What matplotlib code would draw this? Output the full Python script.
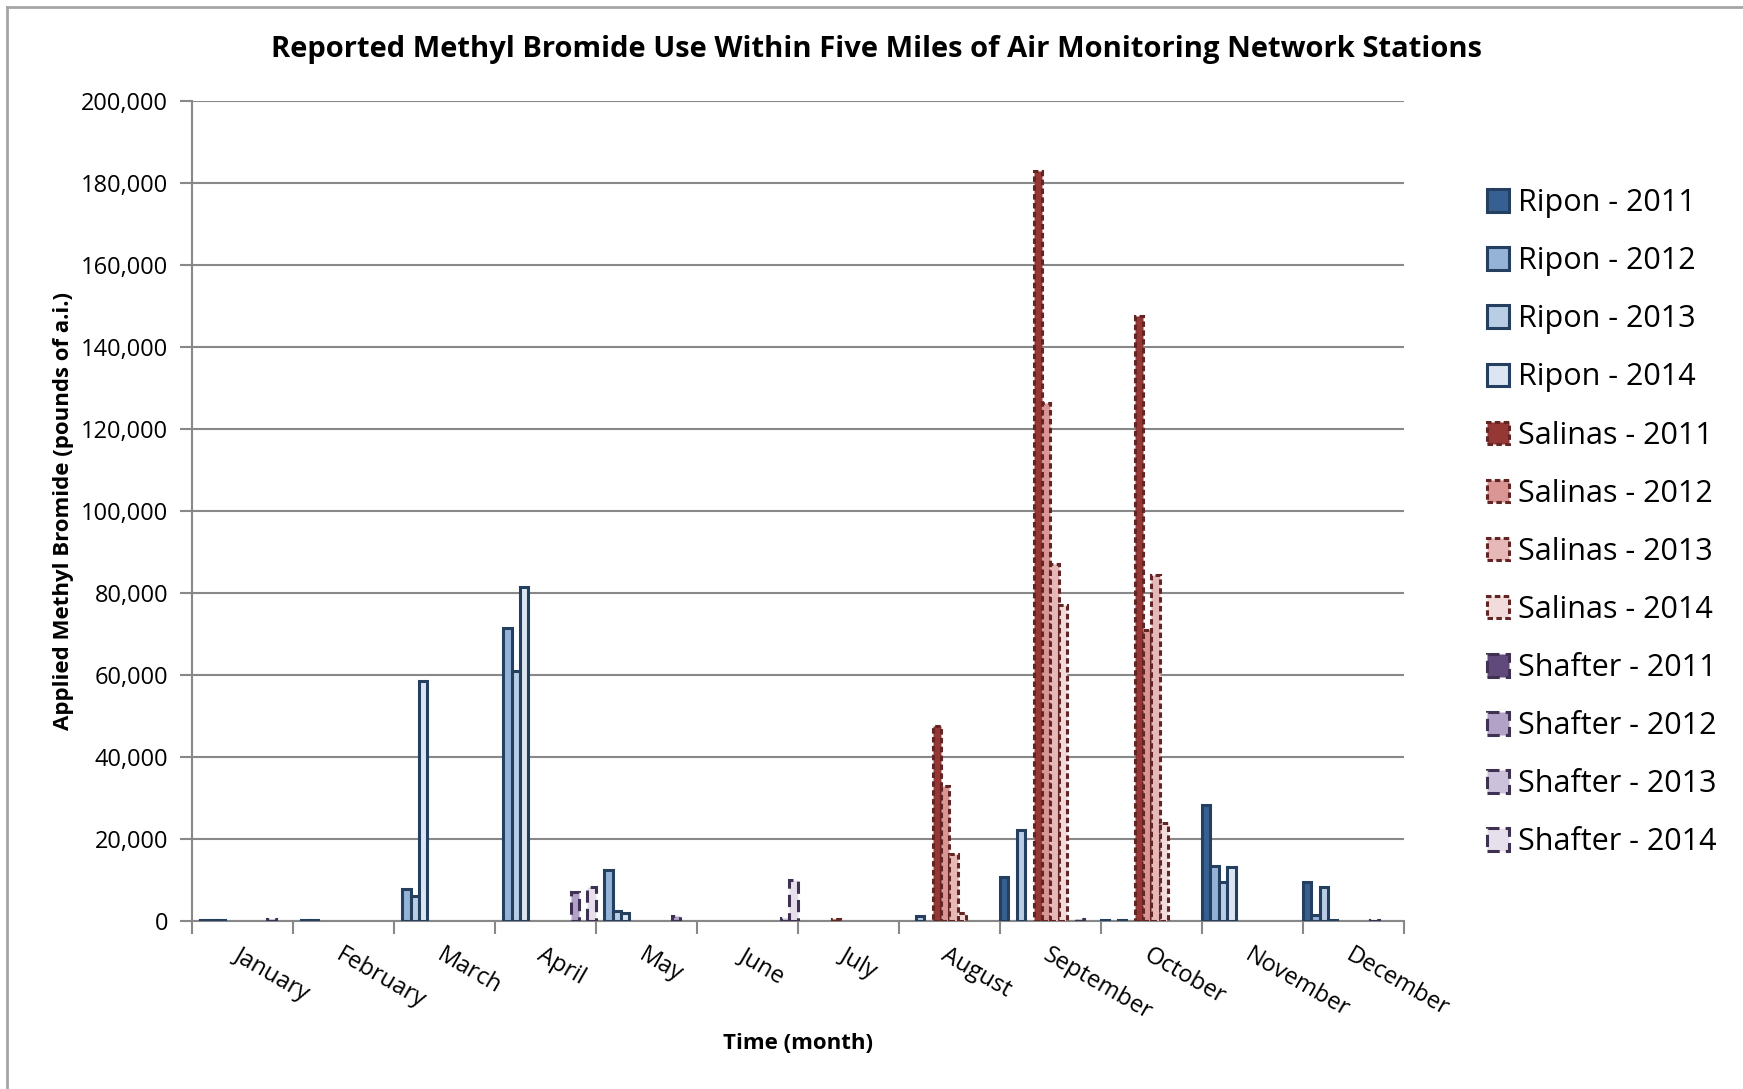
import numpy as np
import matplotlib.pyplot as plt
from matplotlib.lines import Line2D

months = ['January', 'February', 'March', 'April', 'May', 'June', 'July',
          'August', 'September', 'October', 'November', 'December']
series = ['Ripon - 2011', 'Ripon - 2012', 'Ripon - 2013', 'Ripon - 2014',
          'Salinas - 2011', 'Salinas - 2012', 'Salinas - 2013', 'Salinas - 2014',
          'Shafter - 2011', 'Shafter - 2012', 'Shafter - 2013', 'Shafter - 2014']

# pounds of a.i. per month (Jan..Dec)
ripon_2011 = [0, 0, 0, 0, 0, 0, 0, 0, 10800, 300, 28300, 9600]
ripon_2012 = [300, 300, 7700, 71500, 12400, 0, 0, 0, 0, 0, 13500, 1500]
ripon_2013 = [300, 300, 6000, 61000, 2500, 0, 0, 1200, 22300, 300, 9500, 8300]
ripon_2014 = [300, 0, 58500, 81500, 2000, 0, 0, 0, 0, 0, 13200, 200]
salinas_2011 = [0, 0, 0, 0, 0, 0, 400, 47500, 183000, 147500, 0, 0]
salinas_2012 = [0, 0, 0, 0, 0, 0, 0, 33000, 126500, 71000, 0, 0]
salinas_2013 = [0, 0, 0, 0, 0, 0, 0, 16300, 87000, 84300, 0, 0]
salinas_2014 = [0, 0, 0, 0, 0, 0, 0, 2000, 77000, 24000, 0, 0]
shafter_2011 = [0, 0, 0, 0, 0, 0, 0, 0, 0, 0, 0, 300]
shafter_2012 = [600, 0, 0, 7000, 1200, 0, 0, 0, 500, 0, 0, 0]
shafter_2013 = [0, 0, 0, 0, 0, 800, 0, 0, 0, 0, 0, 0]
shafter_2014 = [0, 0, 0, 8300, 0, 10000, 0, 0, 0, 0, 0, 0]

data = [ripon_2011, ripon_2012, ripon_2013, ripon_2014,
        salinas_2011, salinas_2012, salinas_2013, salinas_2014,
        shafter_2011, shafter_2012, shafter_2013, shafter_2014]

fills = ['#376092', '#95B3D7', '#B9CDE5', '#DCE6F2',
         '#953735', '#D99694', '#E6B9B8', '#F2DCDB',
         '#604A7B', '#B3A2C7', '#CCC1DA', '#E6E0EC']
edges = ['#243F60'] * 4 + ['#632523'] * 4 + ['#3F3151'] * 4
styles = ['solid'] * 4 + [(0, (1.8, 1.1))] * 4 + [(0, (4, 2))] * 4

plt.rcParams['font.family'] = ['Open Sans', 'DejaVu Sans']

fig = plt.figure(figsize=(17.43, 10.89), dpi=100)
ax = fig.add_axes([0.110, 0.1543, 0.6955, 0.7527])

n = len(series)
w = 1.0 / n
x = np.arange(len(months))
for j in range(n):
    v = np.array(data[j], dtype=float)
    keep = v > 0
    ax.bar(x[keep] + (j + 0.5) * w, v[keep], width=w, align='center',
           color=fills[j], edgecolor=edges[j], linewidth=2.2,
           linestyle=styles[j], label=series[j], zorder=3)

ax.set_xlim(0, len(months))
ax.set_ylim(0, 200000)
ax.set_yticks(np.arange(0, 200001, 20000))
ax.set_yticklabels(['{:,}'.format(v) for v in range(0, 200001, 20000)], fontsize=17)
ax.yaxis.grid(True, color='#888888', linewidth=1.5, zorder=0)
ax.set_axisbelow(True)

ax.set_xticks(np.arange(0, len(months) + 1))
ax.set_xticklabels([])
ax.set_xticks(x + 0.5, minor=True)
ax.set_xticklabels(months, minor=True, rotation=-30, ha='left', va='top',
                   rotation_mode='anchor', fontsize=17)
ax.tick_params(axis='x', which='minor', length=0, pad=16)
ax.tick_params(axis='x', which='major', length=9, width=1.5, color='#888888')
ax.tick_params(axis='y', length=9, width=1.5, color='#888888', pad=8)

for s in ['top', 'right']:
    ax.spines[s].set_visible(False)
for s in ['left', 'bottom']:
    ax.spines[s].set_color('#888888')
    ax.spines[s].set_linewidth(1.5)

fig.text(0.503, 0.955, 'Reported Methyl Bromide Use Within Five Miles of Air Monitoring Network Stations',
         ha='center', va='center', fontsize=21, fontweight='bold')
ax.set_ylabel('Applied Methyl Bromide (pounds of a.i.)', fontsize=16, fontweight='bold', labelpad=5)
fig.text(0.458, 0.042, 'Time (month)', ha='center', va='center', fontsize=16, fontweight='bold')

leg = ax.legend(loc='upper left', bbox_to_anchor=(1.058, 0.909), frameon=False,
                fontsize=22, handlelength=0.75, handleheight=0.75,
                labelspacing=0.92, handletextpad=0.28, borderaxespad=0)

fig.add_artist(Line2D([0.004, 0.004], [0, 0.994], color='#a6a6a6', linewidth=2,
                      transform=fig.transFigure))
fig.add_artist(Line2D([0.004, 1], [0.994, 0.994], color='#a6a6a6', linewidth=2,
                      transform=fig.transFigure))

fig.savefig('out.png', dpi=100)
